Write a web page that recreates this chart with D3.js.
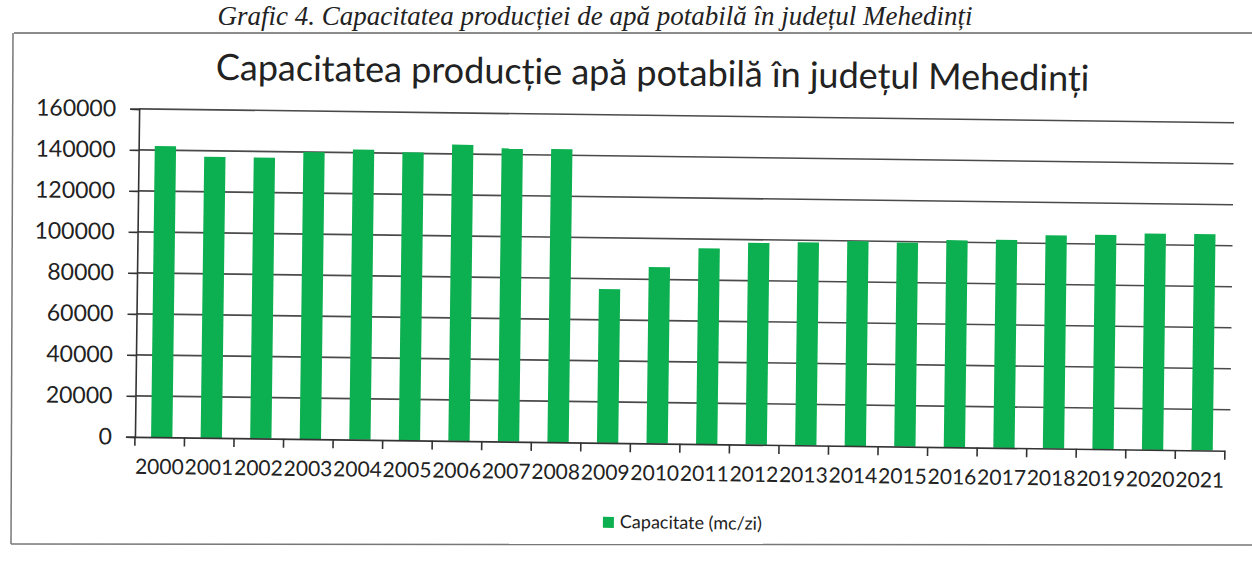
<!DOCTYPE html>
<html>
<head>
<meta charset="utf-8">
<script src="https://cdn.jsdelivr.net/npm/d3@7"></script>
<style>
  body { margin: 0; background: #fff; }
  svg text { font-family: Lato, "Open Sans", sans-serif; fill: #222; }
</style>
</head>
<body>
<div id="chart"></div>
<script>

// data
var years = ["2000","2001","2002","2003","2004","2005","2006","2007","2008","2009","2010",
    "2011","2012","2013","2014","2015","2016","2017","2018","2019","2020","2021"];
var capacity = [142000, 137000, 137000, 140000, 141500, 140500, 144500, 143000, 143000, 75000, 86000,
    95500, 98500, 99000, 100000, 99500, 101000, 101500, 104000, 104500, 105500, 105500];
var yTicks = [0, 20000, 40000, 60000, 80000, 100000, 120000, 140000, 160000];

var caption = "Grafic 4. Capacitatea producției de apă potabilă în județul Mehedinți";
var title = "Capacitatea producție apă potabilă în județul Mehedinți";
var seriesName = "Capacitate (mc/zi)";

var W = 1252, H = 562;
var green = "#0db050";

var svg = d3.select("#chart").append("svg")
    .attr("width", W)
    .attr("height", H);

// caption on the page + frame of the pasted chart
svg.append("text")
    .attr("x", 595)
    .attr("y", 25)
    .attr("text-anchor", "middle")
    .style("font-family", "'Liberation Serif', 'DejaVu Serif', serif")
    .style("font-style", "italic")
    .style("font-size", "27px")
    .text(caption);

svg.append("line")
    .attr("x1", 14).attr("x2", W)
    .attr("y1", 33).attr("y2", 33)
    .attr("stroke", "#666").attr("stroke-width", 1.5);
svg.append("line")
    .attr("x1", 13).attr("x2", 11)
    .attr("y1", 33).attr("y2", 544)
    .attr("stroke", "#777").attr("stroke-width", 1.5);
svg.append("line")
    .attr("x1", 11).attr("x2", W)
    .attr("y1", 544).attr("y2", 545)
    .attr("stroke", "#777").attr("stroke-width", 1.5);

// chart is slightly tilted in the scan
var g = svg.append("g")
    .attr("transform", "rotate(0.73, 620, 280)");

var margin = {left: 137, right: 1227, top: 115, bottom: 443};

var x = d3.scaleBand()
    .domain(years)
    .range([margin.left, margin.right])
    .padding(0);

var y = d3.scaleLinear()
    .domain([0, 160000])
    .range([margin.bottom, margin.top]);

// title
g.append("text")
    .attr("x", 650)
    .attr("y", 85)
    .attr("text-anchor", "middle")
    .style("font-size", "36px")
    .text(title);

// gridlines
g.selectAll(".grid")
    .data(yTicks.slice(1))
    .enter()
    .append("line")
    .attr("class", "grid")
    .attr("x1", margin.left)
    .attr("x2", margin.right + 5)
    .attr("y1", function(d){ return y(d) })
    .attr("y2", function(d){ return y(d) })
    .attr("stroke", "#4a4a4a")
    .attr("stroke-width", 1.6);

// bars
var barW = x.bandwidth() * 0.43;
g.selectAll(".bar")
    .data(capacity)
    .enter()
    .append("rect")
    .attr("class", "bar")
    .attr("x", function(d, i){ return x(years[i]) + (x.bandwidth() - barW) / 2 + 2 })
    .attr("y", function(d){ return y(d) })
    .attr("width", barW)
    .attr("height", function(d){ return y(0) - y(d) })
    .attr("fill", green);

// y axis
var yAxis = g.append("g")
    .attr("transform", "translate(" + margin.left + ",0)")
    .call(d3.axisLeft(y).tickValues(yTicks).tickSize(9).tickPadding(14).tickFormat(d3.format("d")));

yAxis.select(".domain").attr("stroke", "#333").attr("stroke-width", 1.6);
yAxis.selectAll(".tick line").attr("stroke", "#333").attr("stroke-width", 1.6);
yAxis.selectAll("text").style("font-size", "23px").attr("fill", "#222");

// x axis
var xAxis = g.append("g")
    .attr("transform", "translate(0," + y(0) + ")")
    .call(d3.axisBottom(x).tickSize(0).tickPadding(22));

xAxis.select(".domain").attr("stroke", "#333").attr("stroke-width", 1.6);
xAxis.selectAll("text").style("font-size", "21px").attr("fill", "#222");

// tick marks between categories
g.selectAll(".xtick")
    .data(years.concat(["end"]))
    .enter()
    .append("line")
    .attr("class", "xtick")
    .attr("x1", function(d, i){ return i < years.length ? x(d) : margin.right })
    .attr("x2", function(d, i){ return i < years.length ? x(d) : margin.right })
    .attr("y1", y(0))
    .attr("y2", y(0) + 9)
    .attr("stroke", "#333")
    .attr("stroke-width", 1.6);

// legend
var legend = g.append("g")
    .attr("transform", "translate(606,517)");

legend.append("rect")
    .attr("width", 11)
    .attr("height", 11)
    .attr("fill", green);

legend.append("text")
    .attr("x", 17)
    .attr("y", 11)
    .style("font-size", "18px")
    .text(seriesName);

</script>
</body>
</html>
